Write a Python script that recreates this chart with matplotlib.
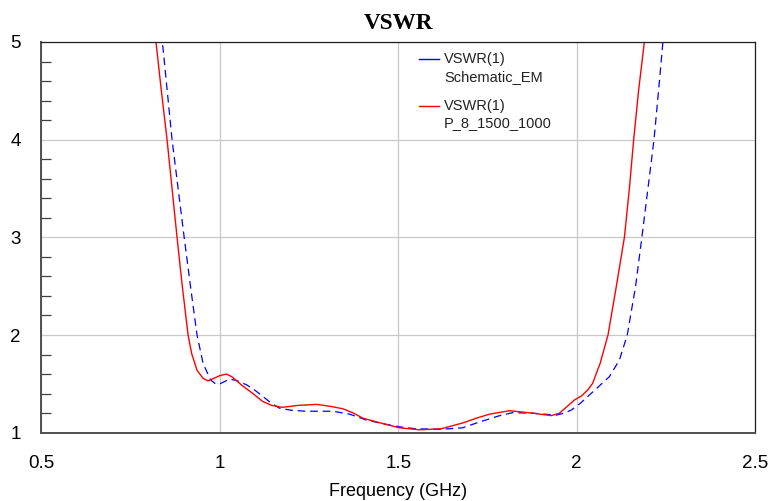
import matplotlib
matplotlib.use("Agg")
import matplotlib.pyplot as plt
from matplotlib.ticker import MultipleLocator

# P_8_1500_1000 (red, solid)
freq_p8 = [0.810, 0.821, 0.836, 0.852, 0.866, 0.880, 0.895, 0.911, 0.921, 0.936,
           0.953, 0.967, 0.985, 1.000, 1.019, 1.035, 1.060, 1.093, 1.120, 1.145,
           1.175, 1.220, 1.271, 1.310, 1.345, 1.375, 1.400, 1.450, 1.504, 1.560,
           1.620, 1.681, 1.720, 1.756, 1.812, 1.877, 1.929, 1.952, 1.994, 2.015,
           2.031, 2.045, 2.066, 2.088, 2.111, 2.134, 2.148, 2.160, 2.174, 2.190,
           2.200]
vswr_p8 = [5.38, 5.00, 4.50, 4.00, 3.50, 3.00, 2.49, 2.00, 1.81, 1.64,
           1.557, 1.53, 1.56, 1.585, 1.60, 1.57, 1.49, 1.40, 1.32, 1.28,
           1.26, 1.28, 1.29, 1.27, 1.245, 1.20, 1.15, 1.10, 1.05, 1.03,
           1.04, 1.10, 1.15, 1.19, 1.225, 1.20, 1.175, 1.20, 1.335, 1.38,
           1.437, 1.506, 1.71, 2.00, 2.49, 3.00, 3.50, 4.00, 4.51, 5.00,
           5.35]

# Schematic_EM (blue, dashed)
freq_em = [0.830, 0.839, 0.866, 0.883, 0.900, 0.918, 0.936, 0.953, 0.974, 0.988,
           1.000, 1.028, 1.050, 1.075, 1.100, 1.121, 1.145, 1.168, 1.200, 1.240,
           1.317, 1.364, 1.410, 1.460, 1.504, 1.550, 1.620, 1.680, 1.728, 1.780,
           1.820, 1.877, 1.943, 1.965, 1.985, 2.010, 2.041, 2.070, 2.092, 2.120,
           2.142, 2.165, 2.183, 2.200, 2.217, 2.230, 2.242, 2.250]
vswr_em = [5.35, 5.00, 4.00, 3.50, 3.00, 2.49, 2.00, 1.71, 1.54, 1.50,
           1.50, 1.55, 1.53, 1.49, 1.43, 1.37, 1.30, 1.25, 1.23, 1.22,
           1.22, 1.19, 1.13, 1.09, 1.06, 1.04, 1.035, 1.05, 1.11, 1.17,
           1.205, 1.20, 1.18, 1.20, 1.232, 1.30, 1.403, 1.50, 1.574, 1.744,
           2.00, 2.49, 3.00, 3.50, 4.00, 4.51, 5.00, 5.35]

legend_names = [["VSWR(1)", "Schematic_EM"], ["VSWR(1)", "P_8_1500_1000"]]
legend_colors = ["blue", "red"]

plt.rcParams["font.family"] = ["Liberation Sans", "DejaVu Sans"]
plt.rcParams["lines.scale_dashes"] = False

fig = plt.figure(figsize=(7.71, 5.01), dpi=100)
ax = fig.add_axes([0.0538, 0.1363, 0.9254, 0.7799])

ax.plot(freq_em, vswr_em, color="blue", lw=0.9, linestyle=(0, (5.5, 3.5)))
ax.plot(freq_p8, vswr_p8, color="red", lw=1.0)

ax.set_xlim(0.5, 2.5)
ax.set_ylim(1, 5)
ax.xaxis.set_major_locator(MultipleLocator(0.5))
ax.yaxis.set_major_locator(MultipleLocator(1))
ax.yaxis.set_minor_locator(MultipleLocator(0.2))
ax.set_xticks([0.5, 1, 1.5, 2, 2.5], ["0.5", "1", "1.5", "2", "2.5"])
ax.set_yticks([1, 2, 3, 4, 5], ["1", "2", "3", "4", "5"])
ax.grid(True, which="major", color="#c8c8c8", lw=0.9)
ax.set_axisbelow(True)

ax.tick_params(axis="both", which="major", length=0, labelsize=13.5, colors="black")
ax.tick_params(axis="x", which="major", pad=16)
ax.tick_params(axis="y", which="major", pad=15)
ax.tick_params(axis="y", which="minor", direction="in", length=7, width=0.9, color="#404040")

for side in ["left", "bottom"]:
    ax.spines[side].set_color("#505050")
    ax.spines[side].set_linewidth(1.4)
for side in ["top", "right"]:
    ax.spines[side].set_color("#202020")
    ax.spines[side].set_linewidth(0.9)

ax.set_title("VSWR", family="Liberation Serif", fontweight="bold", fontsize=16.7, pad=9)
ax.set_xlabel("Frequency (GHz)", fontsize=13, labelpad=8)

# legend drawn by hand so the line sits beside the first text line
rows = [(0.9557, 0.911), (0.836, 0.792)]
for names, color, (y1, y2) in zip(legend_names, legend_colors, rows):
    ax.plot([0.529, 0.557], [y1, y1], color=color, lw=1.0, transform=ax.transAxes)
    ax.text(0.564, y1, names[0], transform=ax.transAxes, fontsize=10.5,
            va="center", ha="left", color="#222222")
    ax.text(0.564, y2, names[1], transform=ax.transAxes, fontsize=10.5,
            va="center", ha="left", color="#222222")

fig.savefig("out.png", dpi=100)
